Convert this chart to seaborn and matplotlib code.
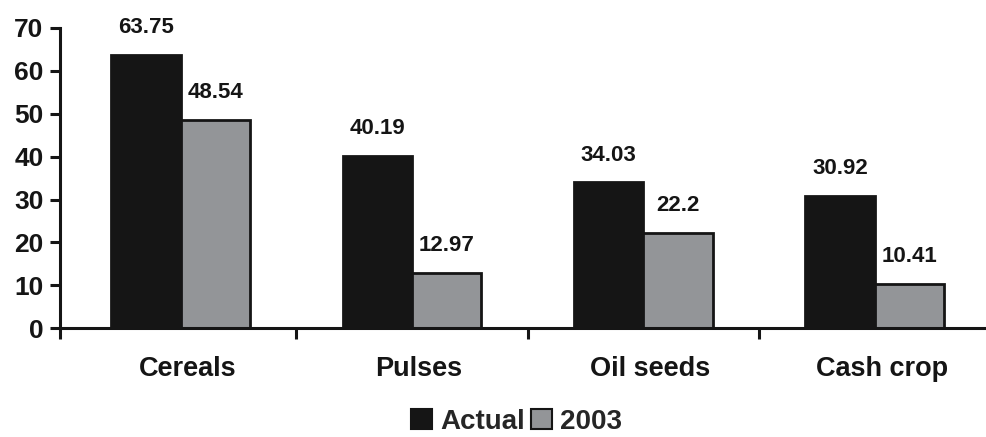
import matplotlib
matplotlib.use("Agg")
import matplotlib.pyplot as plt
import matplotlib.transforms as mtransforms
import seaborn as sns
import pandas as pd
from matplotlib.patches import Patch

categories = ["Cereals", "Pulses", "Oil seeds", "Cash crop"]
series = ["Actual", "2003"]
actual = [63.75, 40.19, 34.03, 30.92]
y2003 = [48.54, 12.97, 22.2, 10.41]
yticks = [0, 10, 20, 30, 40, 50, 60, 70]

colors = ["#151515", "#939598"]

df = pd.DataFrame({
    "crop": categories * 2,
    "series": [series[0]] * 4 + [series[1]] * 4,
    "value": actual + y2003,
})

sns.set_style("white")
plt.rcParams["font.family"] = ["Liberation Sans", "DejaVu Sans"]
plt.rcParams["font.weight"] = "bold"

fig = plt.figure(figsize=(9.86, 4.37), dpi=100)
ax = fig.add_axes([0.061, 0.249, 0.939, 0.687])

sns.barplot(data=df, x="crop", y="value", hue="series", palette=colors,
            width=0.6, edgecolor="#151515", linewidth=2, saturation=1,
            legend=False, ax=ax)

for cont in ax.containers:
    ax.bar_label(cont, labels=[f"{v:g}" for v in cont.datavalues],
                 padding=12, fontsize=16, fontweight="bold", color="#151515")

ax.set_ylim(0, 70)
ax.set_xlim(-0.52, 3.48)
ax.set_yticks(yticks)
ax.set_xticks([-0.52, 0.5, 1.5, 2.5], minor=False)
ax.set_xticklabels([])
ax.set_xticks(range(len(categories)), minor=True)
ax.set_xticklabels(categories, minor=True)
ax.tick_params(axis="x", which="minor", bottom=False, length=0, pad=20, labelsize=19.5)
ax.tick_params(axis="x", which="major", bottom=True, direction="out", length=8,
               width=2.2, color="#151515")
ax.tick_params(axis="y", left=True, direction="out", length=7, width=2.2,
               color="#151515", labelsize=19, pad=5)
shift = mtransforms.ScaledTranslation(0.07, 0, fig.dpi_scale_trans)
for lab in ax.get_xticklabels(minor=True):
    lab.set_transform(lab.get_transform() + shift)
for lab in ax.get_yticklabels() + ax.get_xticklabels(minor=True):
    lab.set_fontweight("bold")
    lab.set_color("#151515")
ax.set_xlabel("")
ax.set_ylabel("")
sns.despine(ax=ax)
for s in ["left", "bottom"]:
    ax.spines[s].set_linewidth(2.2)
    ax.spines[s].set_color("#151515")

handles = [Patch(facecolor=colors[0], edgecolor="#151515", linewidth=1.5),
           Patch(facecolor=colors[1], edgecolor="#151515", linewidth=1.5)]
fig.legend(handles, series, loc="center", bbox_to_anchor=(0.524, 0.035), ncol=2,
           frameon=False, prop={"weight": "bold", "size": 20},
           handlelength=0.75, handleheight=0.75, handletextpad=0.3, columnspacing=0.2)

fig.savefig("out.png", dpi=100)
